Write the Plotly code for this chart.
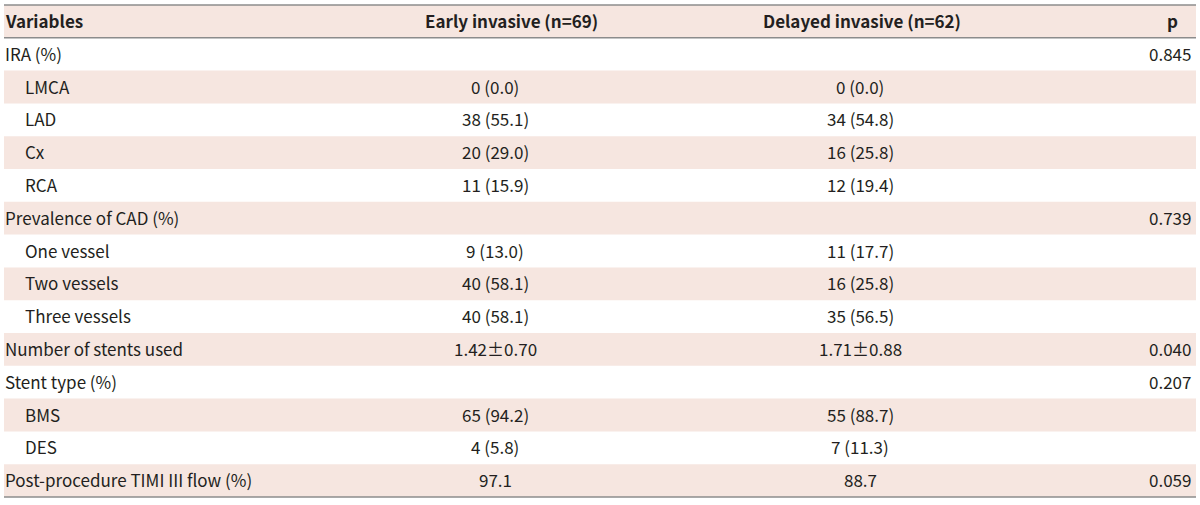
import plotly.graph_objects as go

# ---- data ----
headers = ["Variables", "Early invasive (n=69)", "Delayed invasive (n=62)", "p"]
variables = ["IRA (%)", "LMCA", "LAD", "Cx", "RCA", "Prevalence of CAD (%)",
             "One vessel", "Two vessels", "Three vessels", "Number of stents used",
             "Stent type (%)", "BMS", "DES", "Post-procedure TIMI III flow (%)"]
indented = [False, True, True, True, True, False, True, True, True, False,
            False, True, True, False]
early = ["", "0 (0.0)", "38 (55.1)", "20 (29.0)", "11 (15.9)", "",
         "9 (13.0)", "40 (58.1)", "40 (58.1)", "1.42\u00b10.70", "",
         "65 (94.2)", "4 (5.8)", "97.1"]
delayed = ["", "0 (0.0)", "34 (54.8)", "16 (25.8)", "12 (19.4)", "",
           "11 (17.7)", "16 (25.8)", "35 (56.5)", "1.71\u00b10.88", "",
           "55 (88.7)", "7 (11.3)", "88.7"]
pvals = ["0.845", "", "", "", "", "0.739", "", "", "", "0.040", "0.207",
         "", "", "0.059"]

FONT = "Noto Sans CJK KR"
TXT = "#231f20"
SHADE = "#f6e6e0"
LINE = "#8c8c8c"
FS = 17

n = len(variables)
rows = list(range(1, n + 1))
row_px = 32.8
dy = -1 / row_px  # small nudge of text

fig = go.Figure()

shapes = []
X0, X1 = 4, 1196
shapes.append(dict(type="rect", xref="x", yref="y", x0=X0, x1=X1, y0=-0.5, y1=0.5,
                   fillcolor=SHADE, line=dict(width=0), layer="below"))
for i, r in enumerate(rows):
    if i % 2 == 1:
        shapes.append(dict(type="rect", xref="x", yref="y", x0=X0, x1=X1,
                           y0=r - 0.5, y1=r + 0.5, fillcolor=SHADE,
                           line=dict(width=0), layer="below"))
for yv in [-0.5, 0.5, n + 0.5]:
    shapes.append(dict(type="line", xref="x", yref="y", x0=X0, x1=X1, y0=yv, y1=yv,
                       line=dict(color=LINE, width=1.5)))

annotations = []


def txt(xs, ys, texts, anchor):
    for x, y, t in zip(xs, ys, texts):
        if not t:
            continue
        annotations.append(dict(x=x, y=y + dy, xref="x", yref="y", text=t,
                                showarrow=False, xanchor=anchor, yanchor="middle",
                                borderpad=0,
                                font=dict(family=FONT, size=FS, color=TXT)))


# header
txt([4], [0], ["<b>" + headers[0] + "</b>"], "left")
txt([511, 862, 1172], [0, 0, 0], ["<b>" + h + "</b>" for h in headers[1:]], "center")
# body
txt([24 if ind else 4 for ind in indented], rows, variables, "left")
txt([495] * n, rows, early, "center")
txt([860] * n, rows, delayed, "center")
txt([1192] * n, rows, pvals, "right")

# invisible trace to anchor the axes
fig.add_trace(go.Scatter(x=[0, 1200], y=[0, n], mode="markers",
                         marker=dict(opacity=0), hoverinfo="skip"))

fig.update_layout(
    width=1200, height=505,
    margin=dict(l=0, r=0, t=0, b=0),
    paper_bgcolor="white", plot_bgcolor="white",
    showlegend=False,
    shapes=shapes,
    annotations=annotations,
    xaxis=dict(range=[0, 1200], visible=False, fixedrange=True),
    yaxis=dict(range=[n + 0.5 + 8 / row_px, -0.5 - 5 / row_px], visible=False,
               fixedrange=True),
    hovermode=False,
)

fig.write_html("out.html",
               config={"displayModeBar": False, "staticPlot": True},
               post_script="document.body.style.margin='0';"
                           "document.body.style.overflow='hidden';")
